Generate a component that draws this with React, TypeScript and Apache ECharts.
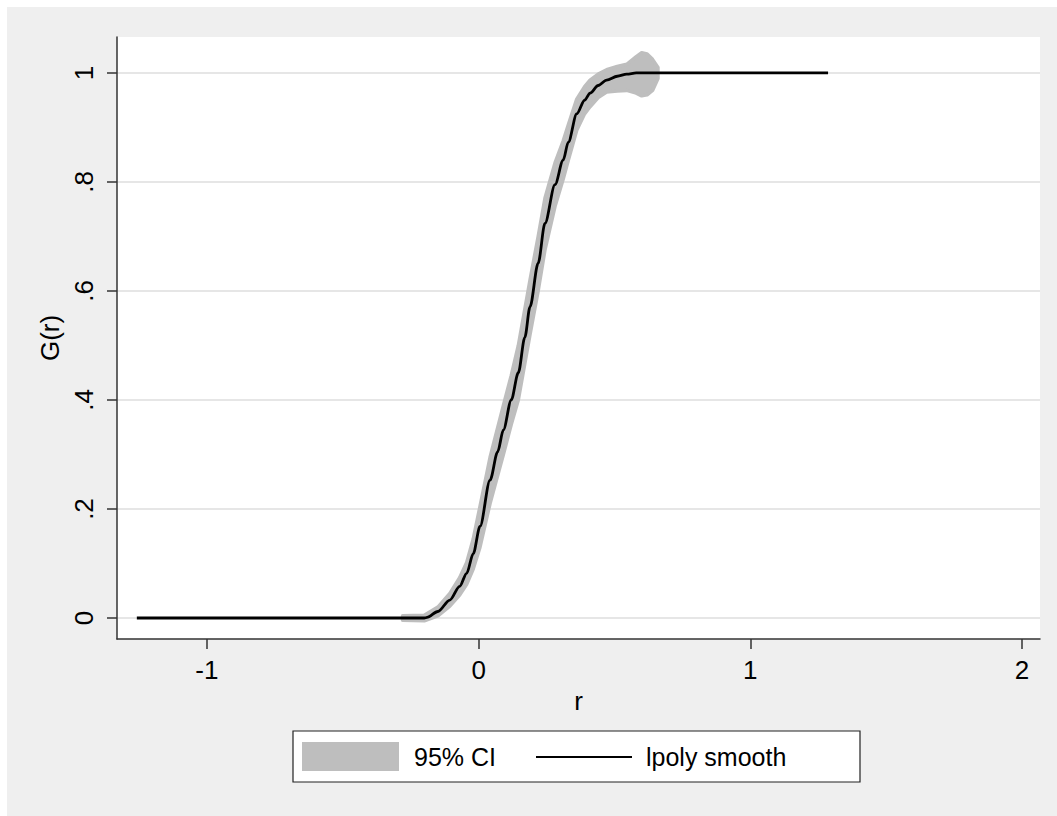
import React, { useEffect, useRef } from "react";
import * as echarts from "echarts";

// lpoly smooth curve
const lineX = [-1.258, -0.2, -0.19, -0.15, -0.106, -0.07, -0.044, -0.02, 0.005, 0.042, 0.07, 0.091, 0.12, 0.146, 0.17, 0.189, 0.219, 0.244, 0.281, 0.311, 0.33, 0.361, 0.39, 0.41, 0.44, 0.471, 0.51, 0.545, 0.58, 1.286];
const lineY = [0, 0, 0.001, 0.012, 0.033, 0.058, 0.082, 0.118, 0.168, 0.253, 0.305, 0.345, 0.4, 0.45, 0.515, 0.571, 0.651, 0.724, 0.795, 0.84, 0.873, 0.925, 0.95, 0.963, 0.977, 0.987, 0.994, 0.998, 1.0, 1.0];

// 95% CI band
const ciX = [-0.28, -0.2, -0.15, -0.106, -0.07, -0.044, -0.02, 0.005, 0.042, 0.091, 0.12, 0.146, 0.189, 0.219, 0.244, 0.281, 0.311, 0.33, 0.361, 0.39, 0.41, 0.44, 0.471, 0.51, 0.545, 0.58, 0.6, 0.62, 0.64, 0.66];
const ciLo = [-0.004, -0.005, 0.004, 0.022, 0.042, 0.062, 0.09, 0.13, 0.21, 0.3, 0.355, 0.4, 0.52, 0.6, 0.675, 0.755, 0.805, 0.84, 0.895, 0.925, 0.938, 0.955, 0.965, 0.967, 0.968, 0.963, 0.958, 0.96, 0.968, 0.99];
const ciHi = [0.004, 0.005, 0.02, 0.045, 0.074, 0.102, 0.145, 0.205, 0.295, 0.39, 0.445, 0.5, 0.62, 0.7, 0.77, 0.835, 0.875, 0.905, 0.952, 0.975, 0.987, 0.998, 1.006, 1.012, 1.016, 1.03, 1.037, 1.035, 1.025, 1.01];

const xTicks = [-1, 0, 1, 2];
const xTickLabels = ["-1", "0", "1", "2"];
const yTicks = [0, 0.2, 0.4, 0.6, 0.8, 1];
const yTickLabels = ["0", ".2", ".4", ".6", ".8", "1"];

const legendLabels = ["95% CI", "lpoly smooth"];

const FONT = "'Liberation Sans', Arial, sans-serif";
const BAND = "#BEBEBE";
const AXIS = "#333333";

export default function App() {
  const ref = useRef<HTMLDivElement>(null);
  useEffect(() => {
    if (!ref.current) return;
    const chart = echarts.init(ref.current, undefined, { renderer: "svg" });
    const lineData = lineX.map((x, i) => [x, lineY[i]]);
    const bandData = ciX.map((x, i) => [x, ciLo[i], ciHi[i]]);

    chart.setOption({
      animation: false,
      backgroundColor: "#ffffff",
      textStyle: { fontFamily: FONT },
      grid: {
        left: 117,
        top: 37,
        right: 17,
        bottom: 177,
        containLabel: false,
        show: true,
        backgroundColor: "#ffffff",
        borderWidth: 0,
      },
      xAxis: {
        type: "value",
        min: -1.331,
        max: 2.066,
        name: "r",
        nameLocation: "middle",
        nameGap: 46,
        nameTextStyle: { fontSize: 26, color: "#000", fontFamily: FONT },
        axisLine: { show: true, onZero: false, lineStyle: { color: AXIS, width: 1.5 } },
        axisTick: { show: true, length: 10, inside: false, customValues: xTicks, lineStyle: { color: AXIS, width: 1.5 } },
        axisLabel: {
          customValues: xTicks,
          margin: 18,
          fontSize: 26,
          color: "#000",
          fontFamily: FONT,
          formatter: (v: number) => {
            const i = xTicks.findIndex((t) => Math.abs(t - v) < 1e-9);
            return i >= 0 ? xTickLabels[i] : "";
          },
        },
        splitLine: { show: false },
      },
      yAxis: {
        type: "value",
        min: -0.0385,
        max: 1.066,
        name: "G(r)",
        nameLocation: "middle",
        nameRotate: 90,
        nameGap: 52,
        nameTextStyle: { fontSize: 26, color: "#000", fontFamily: FONT },
        axisLine: { show: true, onZero: false, lineStyle: { color: AXIS, width: 1.5 } },
        axisTick: { show: true, length: 10, inside: false, customValues: yTicks, lineStyle: { color: AXIS, width: 1.5 } },
        axisLabel: {
          customValues: yTicks,
          rotate: 90,
          margin: 20,
          fontSize: 26,
          color: "#000",
          fontFamily: FONT,
          formatter: (v: number) => {
            const i = yTicks.findIndex((t) => Math.abs(t - v) < 1e-9);
            return i >= 0 ? yTickLabels[i] : "";
          },
        },
        splitLine: { show: true, lineStyle: { color: "#E6E6E6", width: 2 } },
      },
      graphic: [
        {
          type: "rect",
          z: -10,
          silent: true,
          shape: { x: 7, y: 7, width: 1057, height: 816 },
          style: { fill: "#EFEFEF" },
        },
        {
          type: "rect",
          shape: { x: 293, y: 731, width: 567, height: 51 },
          style: { fill: "#ffffff", stroke: "#222", lineWidth: 1.2 },
        },
        {
          type: "rect",
          shape: { x: 302, y: 742, width: 97, height: 29 },
          style: { fill: BAND },
        },
        {
          type: "text",
          x: 414,
          y: 757,
          style: { text: legendLabels[0], fontSize: 25, fill: "#000", fontFamily: FONT, verticalAlign: "middle" },
        },
        {
          type: "line",
          shape: { x1: 536, y1: 757, x2: 632, y2: 757 },
          style: { stroke: "#000", lineWidth: 2.2 },
        },
        {
          type: "text",
          x: 646,
          y: 757,
          style: { text: legendLabels[1], fontSize: 25, fill: "#000", fontFamily: FONT, verticalAlign: "middle" },
        },
      ],
      series: [
        {
          name: "95% CI",
          type: "custom",
          data: bandData,
          encode: { x: 0, y: [1, 2] },
          z: 1,
          renderItem: (params: any, api: any) => {
            if (params.dataIndex !== 0) return null;
            const upper = bandData.map((d) => api.coord([d[0], d[2]]));
            const lower = bandData.map((d) => api.coord([d[0], d[1]])).reverse();
            return {
              type: "polygon",
              shape: { points: upper.concat(lower), smooth: 0 },
              style: { fill: BAND, stroke: BAND, lineWidth: 3.5, lineJoin: "round" },
            };
          },
        },
        {
          name: "lpoly smooth",
          type: "line",
          data: lineData,
          symbol: "none",
          smooth: 0.3,
          smoothMonotone: "x",
          lineStyle: { color: "#000", width: 2.8 },
          z: 3,
        },
      ],
    });
    return () => chart.dispose();
  }, []);
  return (
    <div
      ref={ref}
      style={{ position: "absolute", left: 0, top: 0, width: 1057, height: 816 }}
    />
  );
}
